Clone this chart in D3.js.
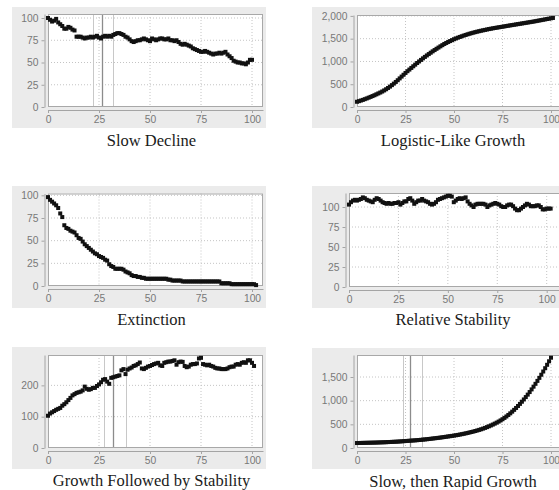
<!DOCTYPE html>
<html>
<head>
<meta charset="utf-8">
<script src="https://cdn.jsdelivr.net/npm/d3@7"></script>
<style>
  body { margin: 0; background: #fff; }
  .axis text { font-family: "Liberation Sans", Arial, sans-serif; font-size: 10.3px; fill: #787878; }
  .axis path, .axis line { stroke: #a4a4a4; }
  .chart-title { font-family: "Liberation Serif", "Times New Roman", serif; font-size: 16.5px; fill: #1a1a1a; }
</style>
</head>
<body>
<svg id="chart" width="559" height="490"></svg>
<script>
const xTicks = [0, 25, 50, 75, 100];
const yTicksSmall = [0, 25, 50, 75, 100];
const yTicksLogistic = [0, 500, 1000, 1500, 2000];
const yTicksGrowth = [0, 100, 200];
const yTicksRapid = [0, 500, 1000, 1500];

const slowDecline = [100,98,96,97,99,95,93,91,88,88,90,89,87,86,79,79,79,78,77,78,
  78,79,78,79,80,78,77,79,80,79,80,79,81,82,83,83,82,81,79,78,
  76,74,73,74,75,75,76,77,76,75,74,77,76,75,76,77,77,76,76,77,
  75,75,74,75,73,71,70,71,70,69,68,66,65,64,63,62,62,63,62,61,
  60,59,60,60,61,60,61,62,59,57,55,52,51,50,50,49,49,48,50,53,53];

const logisticGrowth = [115,128,142,156,172,188,205,222,240,258,278,298,318,340,364,390,418,448,480,514,
  550,588,628,668,708,748,786,822,858,894,930,966,1000,1034,1068,1100,1132,1162,1192,1222,
  1250,1278,1305,1332,1358,1384,1406,1428,1448,1468,1488,1505,1522,1538,1553,1568,1582,1596,1609,1621,
  1633,1644,1655,1665,1675,1684,1693,1702,1711,1719,1727,1735,1742,1749,1756,1763,1770,1778,1785,1792,
  1799,1806,1813,1820,1827,1834,1841,1848,1855,1862,1869,1876,1884,1892,1900,1908,1916,1924,1932,1940,
  1948,1955];

const extinction = [98,95,93,91,89,86,80,76,67,64,63,61,60,59,56,53,52,49,46,44,
  42,40,38,36,35,33,32,31,29,28,24,22,21,19,19,19,19,18,16,15,
  14,12,11,11,10,10,9,9,8,8,8,8,8,8,8,8,8,8,8,7,
  7,6,6,6,6,6,5,5,5,5,5,5,5,5,5,5,5,5,5,5,
  5,5,5,5,5,3,3,3,3,3,2,2,2,2,2,2,2,2,2,2,2,2,1];

const relativeStability = [103,106,108,109,108,109,110,112,111,109,108,107,106,109,111,110,108,106,105,104,
  105,104,104,105,105,106,103,105,107,107,110,111,108,104,106,108,108,110,108,107,
  106,104,103,104,106,109,110,111,112,113,114,114,113,106,108,110,111,110,111,112,
  107,104,102,100,103,104,104,104,104,103,100,102,103,104,105,104,103,101,100,100,
  102,103,103,101,98,96,96,98,100,102,104,103,101,101,101,102,102,100,97,97,98,98,98];

const growthThenStable = [103,110,114,118,122,125,128,135,140,146,153,160,168,172,176,178,180,184,196,189,
  186,188,192,192,198,203,210,218,220,212,205,224,226,228,230,232,248,252,236,250,
  254,257,262,264,268,273,254,252,256,260,262,265,268,270,272,264,262,272,274,276,
  276,278,280,266,274,276,275,262,258,260,266,268,268,270,286,288,268,266,264,266,
  262,260,256,254,254,252,252,252,254,258,260,260,266,268,266,272,274,272,280,280,272,262];

const slowThenRapid = [105,106,107,108,109,110,111,112,113,114,115,117,118,120,121,123,125,127,129,131,
  133,135,138,141,144,147,150,153,156,159,162,165,169,173,177,181,185,190,195,200,
  205,210,215,220,226,232,238,244,250,256,262,269,276,284,292,300,309,318,328,338,
  348,359,371,383,396,410,425,441,458,476,495,515,536,558,582,608,636,666,698,732,
  768,806,846,888,932,978,1026,1076,1128,1182,1238,1296,1356,1418,1482,1548,1616,1686,1758,1832,1908];

// vertical cursor lines visible in three of the panels (time units)
const cursorsDecline = [22, 26.5, 31.9];
const cursorsGrowth = [27.6, 32, 38.2];
const cursorsRapid = [23.5, 27.3, 33.4];

class PopulationPlot {

    constructor(_config, _data) {
        this.config = {
          parentElement: _config.parentElement,
          panel: _config.panel,
          plot: _config.plot,
          xSpan: _config.xSpan,
          yMax: _config.yMax,
          yTicks: _config.yTicks,
          cursors: _config.cursors || [],
          title: _config.title,
          titleX: _config.titleX
        }
        this.data = _data;
        this.initVis();
    }

    initVis() {
        let vis = this;
        const p = vis.config.plot;

        // 0..100 covers xSpan pixels, the plot box runs a bit past 100
        const xMax = 100 * (p.right - p.left) / vis.config.xSpan;
        vis.xScale = d3.scaleLinear()
            .domain([0, xMax])
            .range([p.left, p.right]);

        vis.yScale = d3.scaleLinear()
            .domain([0, vis.config.yMax])
            .range([p.bottom, p.top]);

        vis.xAxis = d3.axisBottom(vis.xScale)
            .tickValues(xTicks)
            .tickSize(3)
            .tickSizeOuter(0)
            .tickPadding(3);

        vis.yAxis = d3.axisLeft(vis.yScale)
            .tickValues(vis.config.yTicks)
            .tickSize(3)
            .tickSizeOuter(0)
            .tickPadding(3)
            .tickFormat(d3.format(','));

        vis.svg = d3.select(vis.config.parentElement);
        vis.chart = vis.svg.append('g');

        // gray panel behind everything
        const b = vis.config.panel;
        vis.chart.append('rect')
            .attr('x', b.x).attr('y', b.y)
            .attr('width', b.w).attr('height', b.h)
            .attr('fill', '#ebebeb');

        vis.chart.append('rect')
            .attr('x', p.left).attr('y', p.top)
            .attr('width', p.right - p.left).attr('height', p.bottom - p.top)
            .attr('fill', '#fff');

        vis.renderVis();
    }

    renderVis() {
        let vis = this;
        const p = vis.config.plot;

        // dotted grid
        vis.chart.selectAll('.grid-x')
            .data(xTicks.filter(d => d > 0))
        .join('line')
            .attr('class', 'grid-x')
            .attr('x1', d => vis.xScale(d)).attr('x2', d => vis.xScale(d))
            .attr('y1', p.top).attr('y2', p.bottom)
            .attr('stroke', '#c4c4c4')
            .attr('stroke-dasharray', '1,2');

        vis.chart.selectAll('.grid-y')
            .data(vis.config.yTicks.filter(d => d > 0))
        .join('line')
            .attr('class', 'grid-y')
            .attr('x1', p.left).attr('x2', p.right)
            .attr('y1', d => vis.yScale(d)).attr('y2', d => vis.yScale(d))
            .attr('stroke', '#c4c4c4')
            .attr('stroke-dasharray', '1,2');

        vis.chart.selectAll('.cursor')
            .data(vis.config.cursors)
        .join('line')
            .attr('class', 'cursor')
            .attr('x1', d => Math.round(vis.xScale(d)) + 0.5)
            .attr('x2', d => Math.round(vis.xScale(d)) + 0.5)
            .attr('y1', p.top).attr('y2', p.bottom)
            .attr('stroke', (d, i) => i === 1 ? '#8c8c8c' : '#c8c8c8')
            .attr('stroke-width', (d, i) => i === 1 ? 1.3 : 1);

        vis.chart.append('rect')
            .attr('x', p.left + 0.5).attr('y', p.top + 0.5)
            .attr('width', p.right - p.left - 1).attr('height', p.bottom - p.top - 1)
            .attr('fill', 'none')
            .attr('stroke', '#a8a8a8');

        vis.chart.append('g')
            .attr('class', 'axis x-axis')
            .attr('transform', `translate(0,${p.bottom + 3})`)
            .call(vis.xAxis);

        vis.chart.append('g')
            .attr('class', 'axis y-axis')
            .attr('transform', `translate(${p.left - 3.5},0)`)
            .call(vis.yAxis);

        // points as small black squares
        vis.chart.selectAll('.pt')
            .data(vis.data)
        .join('rect')
            .attr('class', 'pt')
            .attr('x', (d, i) => vis.xScale(i) - 2)
            .attr('y', d => vis.yScale(d) - 2)
            .attr('width', 4)
            .attr('height', 4)
            .attr('fill', '#111');

        vis.chart.append('text')
            .attr('class', 'chart-title')
            .attr('x', vis.config.titleX)
            .attr('y', vis.config.panel.y + 138.5)
            .attr('text-anchor', 'middle')
            .text(vis.config.title);
    }
}

new PopulationPlot({
    parentElement: '#chart',
    panel: {x: 12, y: 7, w: 254, h: 121},
    plot: {left: 48, right: 263, top: 14, bottom: 107},
    xSpan: 204, yMax: 104.5, yTicks: yTicksSmall,
    cursors: cursorsDecline,
    title: 'Slow Decline', titleX: 151.5
}, slowDecline);

new PopulationPlot({
    parentElement: '#chart',
    panel: {x: 312, y: 7, w: 260, h: 121},
    plot: {left: 357, right: 575, top: 15, bottom: 107},
    xSpan: 194, yMax: 2020, yTicks: yTicksLogistic,
    title: 'Logistic-Like Growth', titleX: 453
}, logisticGrowth);

new PopulationPlot({
    parentElement: '#chart',
    panel: {x: 12, y: 186, w: 254, h: 122},
    plot: {left: 48, right: 263, top: 193.5, bottom: 286},
    xSpan: 204, yMax: 102, yTicks: yTicksSmall,
    title: 'Extinction', titleX: 151.5
}, extinction);

new PopulationPlot({
    parentElement: '#chart',
    panel: {x: 312, y: 186, w: 260, h: 122},
    plot: {left: 349, right: 575, top: 193, bottom: 287},
    xSpan: 197.7, yMax: 117.5, yTicks: yTicksSmall,
    title: 'Relative Stability', titleX: 453
}, relativeStability);

new PopulationPlot({
    parentElement: '#chart',
    panel: {x: 12, y: 347, w: 254, h: 122},
    plot: {left: 48, right: 263, top: 355, bottom: 448},
    xSpan: 204, yMax: 297, yTicks: yTicksGrowth,
    cursors: cursorsGrowth,
    title: 'Growth Followed by Stability', titleX: 151.5
}, growthThenStable);

new PopulationPlot({
    parentElement: '#chart',
    panel: {x: 312, y: 348, w: 260, h: 121},
    plot: {left: 357, right: 575, top: 355, bottom: 448},
    xSpan: 194, yMax: 1965, yTicks: yTicksRapid,
    cursors: cursorsRapid,
    title: 'Slow, then Rapid Growth', titleX: 453
}, slowThenRapid);
</script>
</body>
</html>
